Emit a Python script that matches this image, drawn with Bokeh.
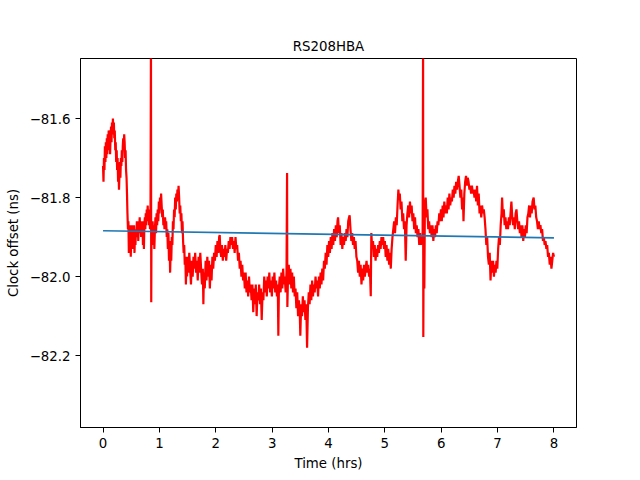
from bokeh.plotting import figure
from bokeh.models import Range1d, FixedTicker, CustomJSTickFormatter
from bokeh.embed import file_html
from bokeh.resources import INLINE

title_text = "RS208HBA"
x_label = "Time (hrs)"
y_label = "Clock offset (ns)"
x_ticks = [0, 1, 2, 3, 4, 5, 6, 7, 8]
y_ticks = [-82.2, -82.0, -81.8, -81.6]

# (time in hours, clock offset in ns)
clock_samples = [
    (0.000, -81.72), (0.008, -81.76), (0.016, -81.70), (0.025, -81.73), (0.033, -81.67), (0.042, -81.71),
    (0.050, -81.66), (0.058, -81.70), (0.067, -81.65), (0.075, -81.69), (0.083, -81.64), (0.092, -81.68),
    (0.100, -81.63), (0.108, -81.67), (0.117, -81.64), (0.125, -81.69), (0.133, -81.65), (0.142, -81.62),
    (0.150, -81.66), (0.158, -81.61), (0.167, -81.64), (0.175, -81.60), (0.183, -81.63), (0.192, -81.61),
    (0.200, -81.65), (0.208, -81.63), (0.217, -81.68), (0.225, -81.66), (0.233, -81.71), (0.242, -81.68),
    (0.250, -81.73), (0.258, -81.70), (0.267, -81.76), (0.275, -81.73), (0.283, -81.78), (0.292, -81.74),
    (0.300, -81.71), (0.308, -81.75), (0.317, -81.70), (0.325, -81.72), (0.333, -81.68), (0.342, -81.71),
    (0.350, -81.67), (0.358, -81.65), (0.367, -81.68), (0.375, -81.64), (0.383, -81.66), (0.392, -81.70),
    (0.400, -81.68), (0.408, -81.73), (0.417, -81.75), (0.425, -81.79), (0.433, -81.84), (0.442, -81.88),
    (0.450, -81.86), (0.458, -81.94), (0.467, -81.88), (0.475, -81.92), (0.483, -81.87), (0.492, -81.95),
    (0.500, -81.89), (0.508, -81.90), (0.517, -81.87), (0.525, -81.93), (0.533, -81.88), (0.542, -81.91),
    (0.550, -81.87), (0.558, -81.94), (0.567, -81.89), (0.575, -81.92), (0.583, -81.88), (0.592, -81.90),
    (0.600, -81.86), (0.608, -81.89), (0.617, -81.87), (0.625, -81.91), (0.633, -81.86), (0.642, -81.89),
    (0.650, -81.85), (0.658, -81.88), (0.667, -81.86), (0.675, -81.90), (0.683, -81.87), (0.692, -81.89),
    (0.700, -81.86), (0.708, -81.92), (0.717, -81.88), (0.725, -81.93), (0.733, -81.87), (0.742, -81.85),
    (0.750, -81.88), (0.758, -81.84), (0.767, -81.87), (0.775, -81.83), (0.783, -81.86), (0.792, -81.82),
    (0.800, -81.85), (0.808, -81.83), (0.817, -81.87), (0.825, -81.84), (0.833, -81.88), (0.842, -81.85),
    (0.850, -81.40), (0.855, -82.065), (0.860, -81.86), (0.870, -81.90), (0.880, -81.86), (0.890, -81.92),
    (0.900, -81.87), (0.910, -81.93), (0.920, -81.88), (0.930, -81.85), (0.940, -81.89), (0.950, -81.84),
    (0.960, -81.87), (0.970, -81.83), (0.980, -81.86), (0.990, -81.81), (1.000, -81.84), (1.010, -81.80),
    (1.020, -81.83), (1.030, -81.79), (1.040, -81.82), (1.050, -81.85), (1.060, -81.83), (1.070, -81.87),
    (1.080, -81.85), (1.090, -81.88), (1.100, -81.85), (1.110, -81.87), (1.120, -81.86), (1.130, -81.90),
    (1.140, -81.88), (1.150, -81.93), (1.160, -81.89), (1.170, -81.96), (1.180, -81.91), (1.190, -81.99),
    (1.200, -81.93), (1.210, -81.96), (1.220, -81.90), (1.230, -81.92), (1.240, -81.86), (1.250, -81.88),
    (1.260, -81.83), (1.270, -81.85), (1.280, -81.80), (1.290, -81.83), (1.300, -81.79), (1.310, -81.81),
    (1.320, -81.78), (1.330, -81.80), (1.340, -81.77), (1.350, -81.80), (1.360, -81.84), (1.370, -81.82),
    (1.380, -81.86), (1.390, -81.84), (1.400, -81.89), (1.410, -81.86), (1.420, -81.91), (1.430, -81.94),
    (1.440, -81.92), (1.450, -81.97), (1.460, -81.95), (1.470, -82.02), (1.480, -81.96), (1.490, -82.00),
    (1.500, -81.95), (1.515, -81.99), (1.530, -81.94), (1.545, -81.98), (1.560, -82.02), (1.575, -81.96),
    (1.590, -82.00), (1.605, -81.95), (1.620, -81.98), (1.635, -81.94), (1.650, -81.99), (1.665, -81.96),
    (1.680, -82.01), (1.695, -81.95), (1.710, -81.99), (1.725, -81.94), (1.740, -81.98), (1.755, -82.02),
    (1.770, -81.98), (1.780, -82.07), (1.790, -81.99), (1.805, -82.03), (1.820, -81.96), (1.835, -82.01),
    (1.850, -81.95), (1.865, -82.00), (1.880, -81.96), (1.895, -82.03), (1.910, -81.97), (1.925, -82.01),
    (1.940, -81.95), (1.955, -81.98), (1.970, -81.94), (1.985, -81.96), (2.000, -81.92), (2.015, -81.95),
    (2.030, -81.91), (2.045, -81.94), (2.060, -81.90), (2.070, -81.895), (2.080, -81.93), (2.095, -81.95),
    (2.110, -81.92), (2.125, -81.96), (2.140, -81.93), (2.155, -81.95), (2.170, -81.92), (2.185, -81.96),
    (2.200, -81.93), (2.215, -81.94), (2.230, -81.91), (2.245, -81.93), (2.260, -81.90), (2.275, -81.92),
    (2.290, -81.90), (2.305, -81.93), (2.320, -81.91), (2.335, -81.94), (2.350, -81.90), (2.365, -81.93),
    (2.380, -81.92), (2.395, -81.96), (2.410, -81.94), (2.425, -81.98), (2.440, -81.96), (2.455, -82.00),
    (2.470, -81.97), (2.485, -82.01), (2.500, -81.99), (2.515, -82.03), (2.530, -81.99), (2.545, -82.04),
    (2.560, -82.01), (2.575, -82.05), (2.590, -82.00), (2.605, -82.04), (2.620, -82.02), (2.635, -82.06),
    (2.650, -82.02), (2.665, -82.09), (2.680, -82.03), (2.695, -82.07), (2.710, -82.02), (2.725, -82.10),
    (2.740, -82.04), (2.755, -82.06), (2.770, -82.02), (2.785, -82.07), (2.800, -82.03), (2.815, -82.11),
    (2.830, -82.04), (2.845, -82.06), (2.860, -82.00), (2.875, -82.04), (2.890, -82.01), (2.905, -82.05),
    (2.920, -82.00), (2.935, -82.03), (2.950, -81.99), (2.965, -82.04), (2.980, -82.01), (2.995, -82.05),
    (3.010, -82.00), (3.025, -82.03), (3.040, -81.99), (3.055, -82.04), (3.070, -82.01), (3.085, -82.05),
    (3.100, -82.02), (3.110, -82.15), (3.120, -82.03), (3.135, -82.00), (3.150, -82.04), (3.165, -81.99),
    (3.180, -82.03), (3.195, -81.98), (3.210, -82.02), (3.225, -82.00), (3.240, -82.04), (3.255, -81.99),
    (3.265, -81.738), (3.270, -82.077), (3.280, -82.01), (3.295, -81.97), (3.310, -82.02), (3.325, -81.98),
    (3.340, -82.03), (3.355, -81.99), (3.370, -82.04), (3.385, -82.00), (3.400, -82.05), (3.415, -82.03),
    (3.430, -82.08), (3.445, -82.04), (3.460, -82.10), (3.475, -82.06), (3.490, -82.09), (3.500, -82.15),
    (3.515, -82.07), (3.530, -82.10), (3.545, -82.05), (3.560, -82.09), (3.575, -82.06), (3.590, -82.11),
    (3.605, -82.07), (3.620, -82.18), (3.635, -82.08), (3.650, -82.04), (3.665, -82.07), (3.680, -82.02),
    (3.695, -82.06), (3.710, -82.01), (3.725, -82.05), (3.740, -82.02), (3.755, -82.04), (3.770, -82.00),
    (3.785, -82.03), (3.800, -82.01), (3.815, -82.05), (3.830, -82.00), (3.845, -82.03), (3.860, -81.99),
    (3.875, -82.02), (3.890, -81.98), (3.905, -82.01), (3.920, -81.96), (3.935, -81.98), (3.950, -81.94),
    (3.965, -81.97), (3.980, -81.92), (3.995, -81.95), (4.010, -81.91), (4.025, -81.94), (4.040, -81.90),
    (4.055, -81.93), (4.070, -81.89), (4.085, -81.92), (4.100, -81.88), (4.115, -81.91), (4.130, -81.87),
    (4.145, -81.90), (4.160, -81.86), (4.170, -81.85), (4.185, -81.89), (4.200, -81.87), (4.215, -81.92),
    (4.230, -81.89), (4.245, -81.93), (4.260, -81.90), (4.275, -81.92), (4.290, -81.89), (4.305, -81.91),
    (4.320, -81.88), (4.335, -81.90), (4.350, -81.86), (4.365, -81.85), (4.375, -81.845), (4.390, -81.88),
    (4.405, -81.91), (4.420, -81.89), (4.435, -81.92), (4.450, -81.90), (4.465, -81.93), (4.480, -81.91),
    (4.495, -81.95), (4.510, -81.96), (4.525, -81.99), (4.540, -81.96), (4.555, -82.00), (4.570, -81.97),
    (4.585, -82.02), (4.600, -81.98), (4.615, -82.01), (4.630, -81.97), (4.645, -82.00), (4.660, -81.98),
    (4.675, -81.96), (4.690, -81.99), (4.705, -81.97), (4.720, -82.00), (4.735, -81.98), (4.750, -82.05),
    (4.760, -81.89), (4.775, -81.93), (4.790, -81.91), (4.805, -81.95), (4.820, -81.92), (4.835, -81.96),
    (4.850, -81.93), (4.865, -81.95), (4.880, -81.92), (4.895, -81.94), (4.910, -81.91), (4.925, -81.93),
    (4.940, -81.90), (4.955, -81.92), (4.970, -81.90), (4.985, -81.93), (5.000, -81.91), (5.015, -81.95),
    (5.030, -81.92), (5.045, -81.96), (5.060, -81.93), (5.075, -81.97), (5.090, -81.94), (5.105, -81.98),
    (5.120, -81.93), (5.135, -81.90), (5.150, -81.88), (5.165, -81.86), (5.180, -81.89), (5.195, -81.85),
    (5.210, -81.87), (5.225, -81.82), (5.240, -81.78), (5.250, -81.80), (5.265, -81.79), (5.280, -81.83),
    (5.295, -81.81), (5.310, -81.86), (5.325, -81.84), (5.340, -81.88), (5.355, -81.86), (5.370, -81.96),
    (5.385, -81.87), (5.400, -81.84), (5.415, -81.82), (5.430, -81.85), (5.445, -81.81), (5.460, -81.84),
    (5.475, -81.82), (5.490, -81.86), (5.505, -81.84), (5.520, -81.88), (5.535, -81.85), (5.550, -81.89),
    (5.565, -81.87), (5.580, -81.90), (5.595, -81.88), (5.610, -81.92), (5.625, -81.89), (5.640, -81.92),
    (5.655, -81.90), (5.670, -81.91), (5.678, -81.40), (5.682, -82.153), (5.690, -81.85), (5.700, -82.03),
    (5.710, -81.82), (5.725, -81.80), (5.740, -81.85), (5.755, -81.83), (5.770, -81.88), (5.785, -81.86),
    (5.800, -81.89), (5.815, -81.87), (5.830, -81.90), (5.845, -81.87), (5.860, -81.91), (5.875, -81.88),
    (5.890, -81.90), (5.905, -81.87), (5.920, -81.89), (5.935, -81.86), (5.950, -81.87), (5.965, -81.84),
    (5.980, -81.86), (5.995, -81.83), (6.010, -81.86), (6.025, -81.82), (6.040, -81.85), (6.055, -81.81),
    (6.070, -81.84), (6.085, -81.82), (6.100, -81.84), (6.115, -81.80), (6.130, -81.83), (6.145, -81.79),
    (6.160, -81.82), (6.175, -81.80), (6.190, -81.81), (6.205, -81.78), (6.220, -81.80), (6.235, -81.77),
    (6.250, -81.79), (6.265, -81.76), (6.280, -81.78), (6.295, -81.76), (6.310, -81.745), (6.325, -81.77),
    (6.340, -81.80), (6.355, -81.78), (6.370, -81.83), (6.385, -81.80), (6.395, -81.86), (6.410, -81.79),
    (6.425, -81.76), (6.440, -81.745), (6.455, -81.77), (6.470, -81.75), (6.485, -81.76), (6.500, -81.78),
    (6.515, -81.77), (6.530, -81.79), (6.545, -81.77), (6.560, -81.79), (6.575, -81.78), (6.590, -81.80),
    (6.605, -81.78), (6.620, -81.81), (6.635, -81.77), (6.650, -81.82), (6.665, -81.79), (6.680, -81.84),
    (6.695, -81.82), (6.710, -81.85), (6.725, -81.82), (6.740, -81.84), (6.755, -81.83), (6.770, -81.85),
    (6.785, -81.88), (6.800, -81.92), (6.815, -81.90), (6.830, -81.95), (6.845, -81.97), (6.860, -81.94),
    (6.875, -82.01), (6.890, -81.96), (6.905, -81.99), (6.920, -81.96), (6.935, -82.00), (6.950, -81.97),
    (6.965, -81.99), (6.980, -81.96), (6.995, -81.98), (7.010, -81.93), (7.025, -81.90), (7.040, -81.92),
    (7.055, -81.87), (7.070, -81.84), (7.080, -81.80), (7.095, -81.85), (7.110, -81.83), (7.125, -81.87),
    (7.140, -81.85), (7.155, -81.88), (7.170, -81.86), (7.185, -81.88), (7.200, -81.85), (7.215, -81.87),
    (7.230, -81.84), (7.245, -81.81), (7.260, -81.85), (7.275, -81.87), (7.290, -81.85), (7.305, -81.88),
    (7.320, -81.84), (7.335, -81.83), (7.350, -81.86), (7.365, -81.88), (7.380, -81.86), (7.395, -81.89),
    (7.410, -81.87), (7.425, -81.90), (7.440, -81.87), (7.455, -81.91), (7.470, -81.88), (7.485, -81.90),
    (7.500, -81.87), (7.515, -81.89), (7.530, -81.85), (7.545, -81.84), (7.560, -81.82), (7.575, -81.85),
    (7.590, -81.82), (7.605, -81.84), (7.620, -81.81), (7.640, -81.80), (7.655, -81.83), (7.670, -81.82),
    (7.685, -81.85), (7.700, -81.86), (7.715, -81.88), (7.730, -81.86), (7.745, -81.88), (7.760, -81.87),
    (7.775, -81.89), (7.790, -81.88), (7.805, -81.91), (7.820, -81.90), (7.835, -81.92), (7.850, -81.91),
    (7.865, -81.93), (7.880, -81.92), (7.895, -81.95), (7.910, -81.94), (7.925, -81.97), (7.940, -81.95),
    (7.955, -81.98), (7.970, -81.96), (7.985, -81.94), (8.000, -81.95),
]
time_hrs = [s[0] for s in clock_samples]
offset_ns = [s[1] for s in clock_samples]

# linear fit line
fit_time = [0.0, 8.0]
fit_offset = [-81.884, -81.902]

FONT = "DejaVu Sans"

p = figure(
    width=640, height=480,
    output_backend="svg", toolbar_location=None,
    x_range=Range1d(-0.4, 8.4), y_range=Range1d(-82.382, -81.448),
    min_border_left=80, min_border_right=64, min_border_top=58, min_border_bottom=53,
    title=title_text,
)
p.title.align = "center"
p.title.text_font = FONT
p.title.text_font_size = "13.33px"
p.title.text_font_style = "normal"
p.title.text_color = "black"
p.title.standoff = 10

p.line(time_hrs, offset_ns, line_color="#ff0000", line_width=2.2)
p.line(fit_time, fit_offset, line_color="#1f77b4", line_width=1.6)

p.grid.visible = False
p.outline_line_color = "black"
p.outline_line_width = 1
p.background_fill_color = "white"
p.border_fill_color = "white"

for ax in (p.xaxis[0], p.yaxis[0]):
    ax.axis_line_color = "black"
    ax.axis_line_width = 1
    ax.major_tick_line_color = "black"
    ax.major_tick_out = 5
    ax.major_tick_in = 0
    ax.minor_tick_line_color = None
    ax.major_label_text_font = FONT
    ax.major_label_text_font_size = "13.33px"
    ax.major_label_text_color = "black"
    ax.axis_label_text_font = FONT
    ax.axis_label_text_font_size = "13.33px"
    ax.axis_label_text_font_style = "normal"
    ax.axis_label_text_color = "black"
    ax.major_label_standoff = 5

p.xaxis[0].ticker = FixedTicker(ticks=x_ticks)
p.yaxis[0].ticker = FixedTicker(ticks=y_ticks)
p.yaxis[0].formatter = CustomJSTickFormatter(
    code="return (tick < 0 ? '\u2212' : '') + Math.abs(tick).toFixed(1);"
)
p.xaxis[0].axis_label = x_label
p.yaxis[0].axis_label = y_label
p.xaxis[0].axis_label_standoff = 5
p.yaxis[0].axis_label_standoff = 6

open("out.html", "w").write(file_html(p, INLINE))
